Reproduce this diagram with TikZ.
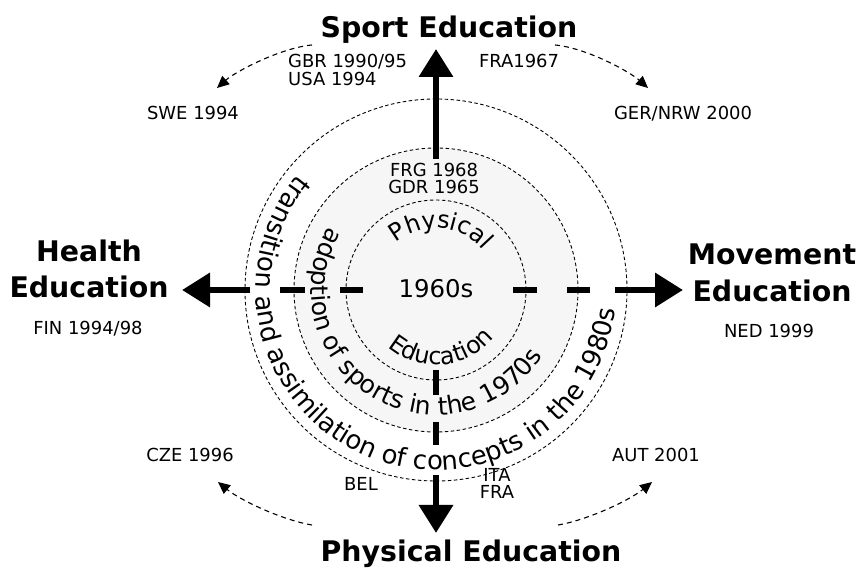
\documentclass[tikz,border=0pt]{standalone}
\usepackage{fontspec}
\setmainfont{DejaVu Sans}
\usetikzlibrary{arrows.meta,decorations.text}
\definecolor{discfill}{gray}{0.965}
\newcommand\arcfont{\fontsize{24}{24}\selectfont}
\newcommand\bandfont{\fontsize{25}{25}\selectfont}
\newcommand\rimfont{\fontsize{26}{26}\selectfont}
\tikzset{
  ring/.style={draw=black, line width=0.9bp, dash pattern=on 3.5bp off 2.5bp},
  axis/.style={line width=6.5bp, -{Triangle[length=28bp,width=33bp]}},
  drift/.style={line width=1.1bp, dash pattern=on 5bp off 4bp, -{Triangle[length=12bp,width=11bp]}},
  heading/.style={font=\fontsize{28.5}{34}\selectfont\bfseries, inner sep=0pt, anchor=base},
  country/.style={font=\fontsize{18}{18}\selectfont, inner sep=0pt, anchor=base},
  arclabel/.style={decorate, decoration={text along path, text align=center}},
}
\begin{document}
\begin{tikzpicture}[x=1bp,y=1bp]
\useasboundingbox (0,0) rectangle (861,568);
\coordinate (O) at (436,278);

% concentric rings
\fill[discfill] (O) circle[radius=142bp];
\draw[ring] (O) circle[radius=90bp];
\draw[ring] (O) circle[radius=142bp];
\draw[ring] (O) circle[radius=191bp];

% arrow ends
\coordinate (upstart) at (436,409);
\coordinate (uptip)   at (436,519);
\coordinate (lefttip) at (182,278);
\coordinate (righttip) at (683,278);
\coordinate (downtip) at (436,35);

% the four axes
\draw[axis] (upstart) -- (uptip);
\draw[axis, dash pattern=on 0bp off 73bp on 23bp off 35bp on 25bp off 30bp on 400bp] (O) -- (lefttip);
\draw[axis, dash pattern=on 0bp off 77bp on 24bp off 30bp on 23bp off 25bp on 400bp] (O) -- (righttip);
\draw[axis, dash pattern=on 0bp off 80bp on 25bp off 27bp on 23bp off 30bp on 400bp] (O) -- (downtip);

% centre and ring texts
\node (decade) at (436,279) {\fontsize{24.5}{24.5}\selectfont 1960s};
\path[arclabel, decoration={text={|\arcfont|Physical}}]
  ([shift={(175:62bp)}]O) arc[start angle=175, end angle=-5, radius=62bp];
\path[arclabel, decoration={text={|\arcfont|Education}}]
  ([shift={(185:75bp)}]O) arc[start angle=185, end angle=365, radius=75bp];
\path[arclabel, decoration={text={|\bandfont|adoption of sports in the 1970s}}]
  ([shift={(129:125bp)}]O) arc[start angle=129, end angle=349, radius=125bp];
\path[arclabel, decoration={text={|\rimfont|transition and assimilation of concepts in the 1980s}}]
  ([shift={(127:180bp)}]O) arc[start angle=127, end angle=367, radius=180bp];

% headings
\node[heading] (sport) at (449,530.5) {Sport Education};
\node[heading] (phys) at (471,6) {Physical Education};
\node[heading] (health1) at (89,306) {Health};
\node[heading] (health2) at (89,270) {Education};
\node[heading] (move1) at (772,303) {Movement};
\node[heading] (move2) at (772,266) {Education};

% countries
\node[country] (frg) at (434,391) {FRG 1968};
\node[country] (gdr) at (434,374) {GDR 1965};
\node[country, anchor=base west] (gbr) at (288,500) {GBR 1990/95};
\node[country, anchor=base west] (usa) at (288,482) {USA 1994};
\node[country] (fra) at (519,500) {FRA1967};
\node[country] (swe) at (193,448) {SWE 1994};
\node[country] (ger) at (683,448) {GER/NRW 2000};
\node[country] (fin) at (88,233) {FIN 1994/98};
\node[country] (ned) at (769,230) {NED 1999};
\node[country] (cze) at (190,106) {CZE 1996};
\node[country] (aut) at (656,106) {AUT 2001};
\node[country] (bel) at (361,77) {BEL};
\node[country] (ita) at (497,86) {ITA};
\node[country] (fra2) at (497,69) {FRA};

% drifting arrows
\coordinate (tlfrom) at (312,523); \coordinate (tlto) at (217,480);
\coordinate (trfrom) at (555,523); \coordinate (trto) at (648,480);
\coordinate (blfrom) at (312,43);  \coordinate (blto) at (218,86);
\coordinate (brfrom) at (558,43);  \coordinate (brto) at (652,86);
\draw[drift] (tlfrom) .. controls (280,520) and (235,496) .. (tlto);
\draw[drift] (trfrom) .. controls (587,520) and (630,496) .. (trto);
\draw[drift] (blfrom) .. controls (282,48) and (240,68) .. (blto);
\draw[drift] (brfrom) .. controls (588,48) and (630,68) .. (brto);
\end{tikzpicture}
\end{document}
